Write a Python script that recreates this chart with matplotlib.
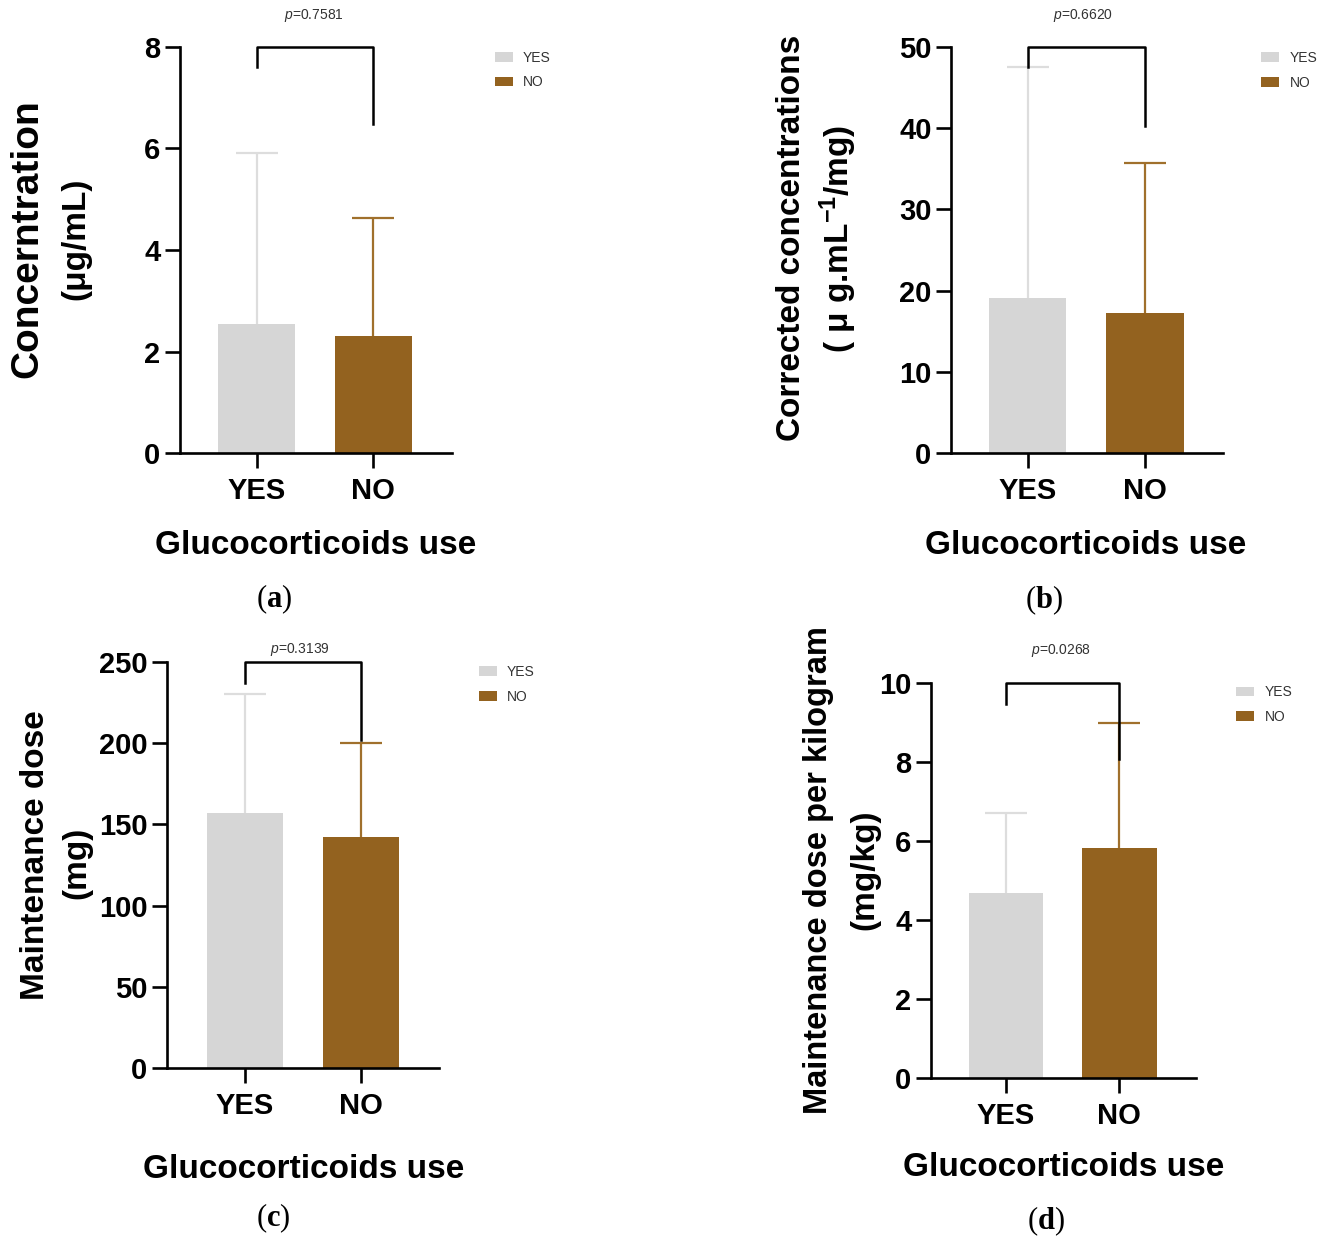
import matplotlib
matplotlib.use("Agg")
import matplotlib.pyplot as plt

W, H = 1331, 1238

groups = ["YES", "NO"]
bar_colors = ["#d6d6d6", "#93621f"]
err_colors = ["#dddddd", "#a0702c"]

# (a) concentration
conc_mean = [2.54, 2.31]
conc_sd = [3.37, 2.31]
# (b) corrected concentration
corr_mean = [19.1, 17.3]
corr_sd = [28.4, 18.4]
# (c) maintenance dose
dose_mean = [157, 142]
dose_sd = [73, 58]
# (d) maintenance dose per kg
dosekg_mean = [4.68, 5.82]
dosekg_sd = [2.04, 3.18]

p_values = ["0.7581", "0.6620", "0.3139", "0.0268"]
bracket_legs = [(7.6, 6.47), (47.5, 40.3), (237, 202), (9.48, 8.09)]
y_ticks = [[0, 2, 4, 6, 8],
           [0, 10, 20, 30, 40, 50],
           [0, 50, 100, 150, 200, 250],
           [0, 2, 4, 6, 8, 10]]

plt.rcParams["font.family"] = "Liberation Sans"
plt.rcParams["mathtext.fontset"] = "custom"
plt.rcParams["mathtext.rm"] = "Liberation Sans:bold"
plt.rcParams["mathtext.it"] = "Liberation Sans:italic"
plt.rcParams["mathtext.bf"] = "Liberation Serif:bold"


def fx(px):
    return px / W


def fy(py):
    return 1 - py / H


fig = plt.figure(figsize=(W / 100, H / 100), dpi=100)

# pixel layout of each panel: spine left, top, right, bottom, tick x of YES / NO
panels = [
    dict(box=(180, 46.7, 451.7, 453.3), ticks=(256.7, 373.3),
         mean=conc_mean, sd=conc_sd,
         ylab=[("Concerntration", 27, 239, 28), ("(μg/mL)", 76, 239, 24)],
         xlab=(316, 545), cap=("a", 274, 599), ptxt=(314, 15), leg=(494.6, 70.2)),
    dict(box=(951, 46.7, 1222.7, 453.3), ticks=(1027.7, 1145),
         mean=corr_mean, sd=corr_sd,
         ylab=[("Corrected concentrations", 791, 238, 24),
               ("( μ g.mL$^{\\mathrm{-1}}$/mg)", 838, 239, 24)],
         xlab=(1086, 546), cap=("b", 1044, 600), ptxt=(1083, 15), leg=(1261, 70.3)),
    dict(box=(166.7, 661.7, 439.3, 1068.3), ticks=(245, 361),
         mean=dose_mean, sd=dose_sd,
         ylab=[("Maintenance dose", 35.7, 855, 24), ("(mg)", 77, 863, 24)],
         xlab=(303.6, 1169), cap=("c", 273, 1218), ptxt=(300, 650), leg=(478.6, 684.3)),
    dict(box=(931, 683.3, 1196, 1078.3), ticks=(1006, 1119.3),
         mean=dosekg_mean, sd=dosekg_sd,
         ylab=[("Maintenance dose per kilogram", 818.6, 870, 23.5), ("(mg/kg)", 864.4, 870, 24)],
         xlab=(1064, 1168), cap=("d", 1046, 1221), ptxt=(1061, 650.7), leg=(1236, 704.6)),
]

for i, p in enumerate(panels):
    l, t, r, b = p["box"]
    ax = fig.add_axes([fx(l), fy(b), (r - l) / W, (b - t) / H])
    t0, t1 = p["ticks"]
    step = t1 - t0
    ax.set_xlim((l - t0) / step, (r - t0) / step)
    ticks = y_ticks[i]
    ax.set_ylim(0, ticks[-1])

    x = [0, 1]
    bars = ax.bar(x, p["mean"], width=0.66, color=bar_colors, zorder=2)
    for k in range(2):
        eb = ax.errorbar(x[k], p["mean"][k], yerr=[[0], [p["sd"][k]]], color=err_colors[k],
                         elinewidth=1.6, capsize=15, capthick=1.6, zorder=1)
        # only the upper cap is shown
        for capline in eb[1]:
            if abs(capline.get_ydata()[0] - p["mean"][k]) < 1e-9:
                capline.set_visible(False)

    # significance bracket
    top = ticks[-1]
    lo_left, lo_right = bracket_legs[i]
    ax.plot([0, 0, 1, 1], [lo_left, top, top, lo_right], color="black", lw=1.8,
            clip_on=False, zorder=3)

    ax.spines["top"].set_visible(False)
    ax.spines["right"].set_visible(False)
    for s in ("left", "bottom"):
        ax.spines[s].set_linewidth(1.9)
        ax.spines[s].set_clip_on(False)
    ax.set_yticks(ticks)
    ax.set_xticks(x)
    ax.set_xticklabels(groups)
    ax.tick_params(width=1.9, length=11, labelsize=21)
    ax.tick_params(axis="y", pad=3)
    ax.tick_params(axis="x", pad=6)
    for lab in ax.get_xticklabels() + ax.get_yticklabels():
        lab.set_fontweight("bold")

    xl, yl = p["xlab"]
    ax.set_xlabel("Glucocorticoids use", fontsize=24, fontweight="bold", va="center")
    ax.xaxis.set_label_coords((xl - l) / (r - l), (b - yl) / (b - t))

    for txt, px, py, size in p["ylab"]:
        fig.text(fx(px), fy(py), txt, rotation=90, ha="center", va="center",
                 fontsize=size, fontweight="bold")

    ax.legend(list(bars), groups, loc="center left", bbox_to_anchor=(fx(p["leg"][0]), fy(p["leg"][1])),
              bbox_transform=fig.transFigure, frameon=False, fontsize=10,
              handlelength=1.3, handleheight=0.7, handletextpad=0.75, labelspacing=0.75,
              borderpad=0, borderaxespad=0, labelcolor="#333333")

    px, py = p["ptxt"]
    fig.text(fx(px), fy(py), "$\\mathit{p}$=" + p_values[i], ha="center", va="center",
             fontsize=10, color="#333333")

    c, cx, cy = p["cap"]
    fig.text(fx(cx), fy(cy), "($\\mathbf{" + c + "}$)", ha="center", va="center",
             fontsize=22, family="Liberation Serif")

fig.savefig("out.png", dpi=100)
